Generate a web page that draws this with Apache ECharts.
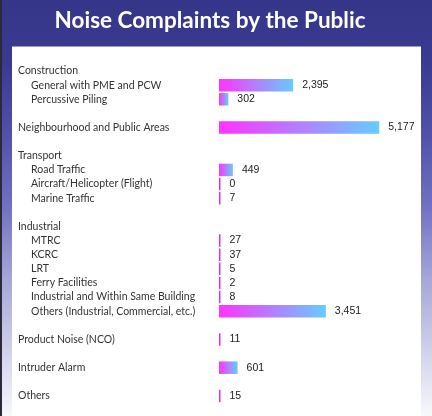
<!DOCTYPE html>
<html><head><meta charset="utf-8">
<script src="https://cdn.jsdelivr.net/npm/echarts@6/dist/echarts.min.js"></script>
<style>html,body{margin:0;padding:0;}#c{width:432px;height:416px;}</style>
</head><body><div id="c"></div>
<script>
const titleText = 'Noise Complaints by the Public';
const groups = ['Construction','Neighbourhood and Public Areas','Transport','Industrial','Product Noise (NCO)','Intruder Alarm','Others'];
const subItems = [
  ['General with PME and PCW','Percussive Piling'],
  [],
  ['Road Traffic','Aircraft/Helicopter (Flight)','Marine Traffic'],
  ['MTRC','KCRC','LRT','Ferry Facilities','Industrial and Within Same Building','Others (Industrial, Commercial, etc.)'],
  [],
  [],
  []
];
const values = [
  [2395, 302],
  [5177],
  [449, 0, 7],
  [27, 37, 5, 2, 8, 3451],
  [11],
  [601],
  [15]
];

// build rows
const rowNames = [], rowKinds = [], rowValues = [];
groups.forEach((g, i) => {
  if (i > 0) { rowNames.push(' '.repeat(i)); rowKinds.push('gap'); rowValues.push('-'); }
  if (subItems[i].length) {
    rowNames.push(g); rowKinds.push('head'); rowValues.push('-');
    subItems[i].forEach((s, j) => { rowNames.push(s); rowKinds.push('sub'); rowValues.push(values[i][j]); });
  } else {
    rowNames.push(g); rowKinds.push('head'); rowValues.push(values[i][0]);
  }
});

const barGradient = {type: 'linear', x: 0, y: 0, x2: 1, y2: 0,
  colorStops: [{offset: 0, color: '#ff33ff'}, {offset: 1, color: '#66ccff'}]};

const chart = echarts.init(document.getElementById('c'), null, {renderer: 'canvas'});
const labelFont = 'Lato';
chart.setOption({
  backgroundColor: {
    type: 'linear', x: 0, y: 0, x2: 0, y2: 1,
    colorStops: [
      {offset: 0, color: '#35358a'},
      {offset: 0.15, color: '#3a3a90'},
      {offset: 0.33, color: '#5252aa'},
      {offset: 0.5, color: '#7272c2'},
      {offset: 0.67, color: '#a6a6d8'},
      {offset: 0.85, color: '#d2d2ec'},
      {offset: 1, color: '#f8f8fd'}
    ]
  },
  animation: false,
  title: {
    text: titleText, left: 205, top: 4, textAlign: 'center',
    textStyle: {color: '#ffffff', fontFamily: 'Lato', fontWeight: 'bold', fontSize: 22.5}
  },
  graphic: [
    {type: 'rect', z: -1, shape: {x: 12, y: 46.5, width: 409, height: 380}, style: {fill: '#ffffff'}},
    {type: 'rect', z: -1, shape: {x: 0, y: 0, width: 2, height: 416}, style: {fill: '#2a2a3a'}}
  ],
  grid: {left: 219, right: 18, top: 64, bottom: 13, containLabel: false},
  xAxis: {type: 'value', min: 0, max: 6300, show: false},
  yAxis: {
    type: 'category', inverse: true, data: rowNames,
    axisLine: {show: false}, axisTick: {show: false}, splitLine: {show: false},
    axisLabel: {
      align: 'left', margin: 201, interval: 0,
      formatter: function (v, idx) {
        const k = rowKinds[idx];
        if (k === 'gap') return '';
        return k === 'sub' ? '{s|' + v + '}' : '{h|' + v + '}';
      },
      rich: {
        h: {fontFamily: labelFont, fontSize: 10.5, color: '#333333'},
        s: {fontFamily: labelFont, fontSize: 10.5, color: '#333333', padding: [0, 0, 0, 13]}
      }
    }
  },
  series: [{
    type: 'bar', data: rowValues, barWidth: 12.5, barMinHeight: 1.5,
    itemStyle: {
      color: function (p) { return Number(p.value) < 100 ? '#e030e0' : barGradient; }
    },
    label: {
      show: true, position: 'right', distance: 9,
      fontFamily: 'Liberation Sans', fontSize: 10.5, color: '#222222',
      formatter: p => (p.value === '-' ? '' : Number(p.value).toLocaleString('en-US'))
    }
  }]
});
</script></body></html>
